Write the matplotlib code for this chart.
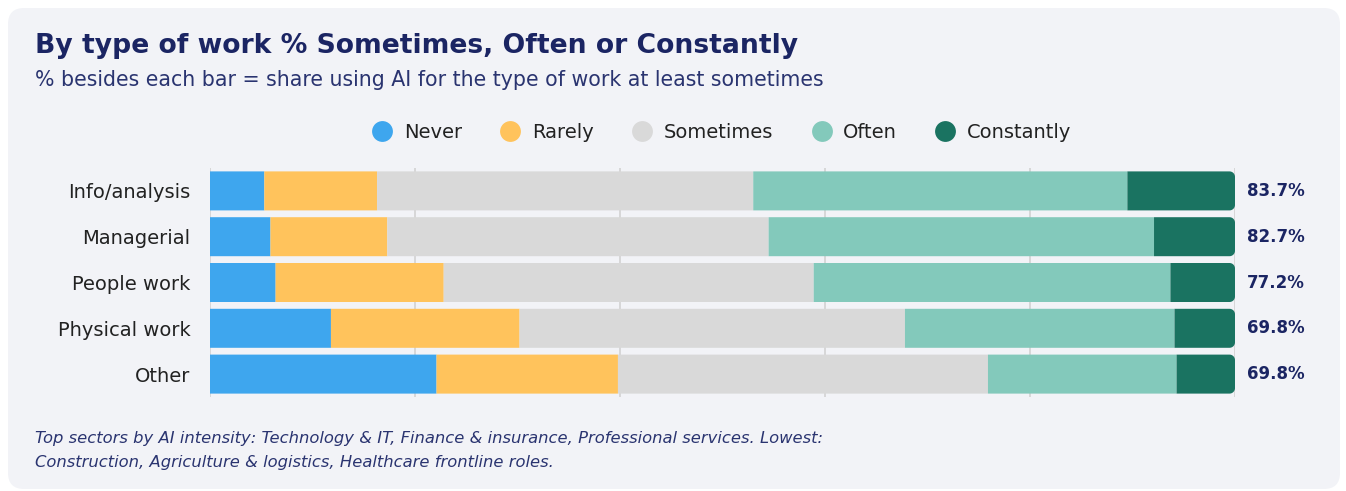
import matplotlib
matplotlib.use("Agg")
import matplotlib.pyplot as plt
from matplotlib.patches import FancyBboxPatch, Polygon
from matplotlib.lines import Line2D
import numpy as np

categories = ["Info/analysis", "Managerial", "People work", "Physical work", "Other"]
series_names = ["Never", "Rarely", "Sometimes", "Often", "Constantly"]
never = [5.3, 5.9, 6.4, 11.8, 22.1]
rarely = [11.0, 11.4, 16.4, 18.4, 17.7]
sometimes = [36.7, 37.2, 36.1, 37.6, 36.1]
often = [36.5, 37.6, 34.8, 26.3, 18.4]
constantly = [10.5, 7.9, 6.3, 5.9, 5.7]
share_labels = ["83.7%", "82.7%", "77.2%", "69.8%", "69.8%"]
colors = ["#3ea6ee", "#ffc35c", "#d9d9d9", "#83c9bb", "#1a7361"]

W, H = 1346, 491
plt.rcParams['font.family'] = ['DejaVu Sans']
fig = plt.figure(figsize=(W / 100, H / 100), dpi=100, facecolor="white")

# panel background
panel = FancyBboxPatch((8 / W, 2 / H), (1332) / W, (481) / H,
                       boxstyle="round,pad=0,rounding_size=0.012",
                       mutation_aspect=W / H,
                       transform=fig.transFigure, facecolor="#f2f3f7",
                       edgecolor="none", zorder=-10)
fig.patches.append(panel)

navy = "#1b2563"
fig.text(35 / W, 1 - 46 / H, "By type of work % Sometimes, Often or Constantly",
         fontsize=19.2, fontweight="bold", color=navy, va="center", ha="left")
fig.text(35 / W, 1 - 80 / H, "% besides each bar = share using AI for the type of work at least sometimes",
         fontsize=14.8, color="#2a3470", va="center", ha="left")
fig.text(35 / W, 1 - 438 / H,
         "Top sectors by AI intensity: Technology & IT, Finance & insurance, Professional services. Lowest:",
         fontsize=11.8, style="italic", color="#2a3470", va="center", ha="left")
fig.text(35 / W, 1 - 462 / H,
         "Construction, Agriculture & logistics, Healthcare frontline roles.",
         fontsize=11.8, style="italic", color="#2a3470", va="center", ha="left")

left, right = 210 / W, 1235 / W
top, bottom = 1 - 168 / H, 1 - 397 / H
ax = fig.add_axes([left, bottom, right - left, top - bottom])
ax.set_facecolor("none")
ax.set_zorder(1)

y = np.arange(len(categories))
data = [never, rarely, sometimes, often, constantly]
bar_h = 39 / (229 / 5)
xpx = 100 / 1025   # data units per pixel in x
ypx = 5 / 229      # data units per pixel in y
rad_px = 5.5


def rounded_right(x0, x1, yc, h):
    rx, ry = rad_px * xpx, rad_px * ypx
    yb, yt = yc - h / 2, yc + h / 2
    th = np.linspace(0, np.pi / 2, 12)
    pts = [(x0, yb), (x1 - rx, yb)]
    pts += [(x1 - rx + rx * np.sin(t), yb + ry - ry * np.cos(t)) for t in th]
    pts += [(x1 - rx + rx * np.cos(t), yt - ry + ry * np.sin(t)) for t in th]
    pts += [(x1 - rx, yt), (x0, yt)]
    return pts


starts = np.zeros(len(categories))
for i, (name, vals, c) in enumerate(zip(series_names, data, colors)):
    vals = np.array(vals)
    if i < len(data) - 1:
        ax.barh(y, vals, left=starts, height=bar_h, color=c, edgecolor="none",
                zorder=2, label=name, snap=False)
    else:
        for yi, s, v in zip(y, starts, vals):
            ax.add_patch(Polygon(rounded_right(s, s + v, yi, bar_h), closed=True,
                                 facecolor=c, edgecolor="none", zorder=2, snap=False))
    starts = starts + vals

for yi, s, lab in zip(y, starts, share_labels):
    ax.text(s + 1.2, yi, lab, ha="left", va="center", fontsize=12,
            fontweight="bold", color=navy)

ax.set_xlim(0, 100)
ax.set_ylim(len(categories) - 0.5, -0.5)
ax.set_xticks([0, 20, 40, 60, 80, 100])
ax.xaxis.grid(True, color="#d2d2d2", linewidth=1.2, zorder=1)
ax.set_axisbelow(True)
ax.tick_params(axis="x", length=0, labelbottom=False)
ax.set_yticks(y)
ax.set_yticklabels(categories, fontsize=14, color="#222222")
ax.tick_params(axis="y", length=0, pad=14)
for sp in ax.spines.values():
    sp.set_visible(False)

leg_handles = [Line2D([0], [0], marker="o", linestyle="none", markersize=15,
                      markerfacecolor=c, markeredgecolor="none") for c in colors]
fig.legend(leg_handles, series_names, loc="center", bbox_to_anchor=(717 / W, 1 - 132 / H),
           ncol=5, frameon=False, fontsize=14, handletextpad=0.1, columnspacing=1.5,
           labelcolor="#222222")

fig.savefig("out.png", dpi=100, facecolor="white")
